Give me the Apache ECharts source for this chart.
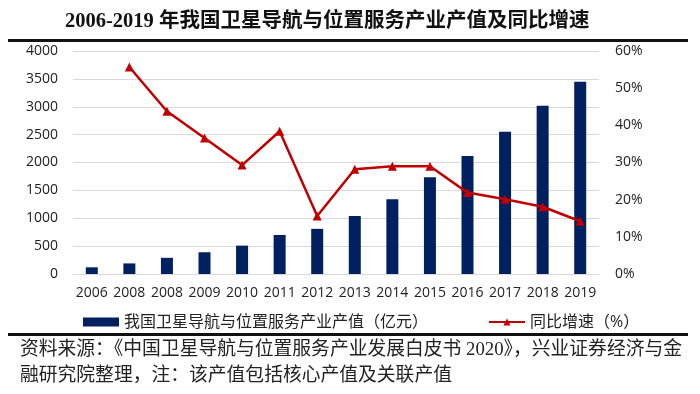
<!DOCTYPE html>
<html><head><meta charset="utf-8">
<script src="https://cdn.jsdelivr.net/npm/echarts@6/dist/echarts.min.js"></script>
<style>html,body{margin:0;padding:0;background:#fff}#c{width:700px;height:394px}</style>
</head><body><div id="c"></div>
<script>
const categories = ['2006','2008','2008','2009','2010','2011','2012','2013','2014','2015','2016','2017','2018','2019'];
const outputValue = [120, 190, 290, 390, 509, 700, 810, 1040, 1343, 1735, 2118, 2550, 3016, 3450];
const growthRate = ['-', 55.7, 43.8, 36.6, 29.3, 38.4, 15.6, 28.2, 29.0, 29.0, 21.9, 20.1, 18.1, 14.2];
const barName = '我国卫星导航与位置服务产业产值（亿元）';
const lineName = '同比增速（%）';
const titleText = '2006-2019 年我国卫星导航与位置服务产业产值及同比增速';
const sourceLine1 = '资料来源：《中国卫星导航与位置服务产业发展白皮书 2020》，兴业证券经济与金';
const sourceLine2 = '融研究院整理，注：该产值包括核心产值及关联产值';

const chart = echarts.init(document.getElementById('c'), null, {renderer: 'canvas'});
const serifFont = '"Liberation Serif", "Noto Sans CJK SC", serif';
const sansFont = '"Open Sans", "Noto Sans CJK SC", sans-serif';
chart.setOption({
  animation: false,
  backgroundColor: '#fff',
  title: {
    text: titleText, left: 60, top: 6,
    textStyle: {fontFamily: serifFont, fontWeight: 'bold', fontSize: 20.5, color: '#111'}
  },
  graphic: [
    {type: 'rect', shape: {x: 8, y: 39, width: 680, height: 3}, style: {fill: '#111'}},
    {type: 'rect', shape: {x: 8, y: 333, width: 680, height: 3}, style: {fill: '#111'}},
    {type: 'text', x: 20, y: 341, style: {text: sourceLine1, font: '18.8px "Liberation Serif", "Noto Sans CJK SC", serif', fill: '#222'}},
    {type: 'text', x: 20, y: 367, style: {text: sourceLine2, font: '18.8px "Liberation Serif", "Noto Sans CJK SC", serif', fill: '#222'}}
  ],
  legend: {
    top: 309, left: 78, itemGap: 60, itemWidth: 36, itemHeight: 9,
    textStyle: {fontFamily: sansFont, fontSize: 16, color: '#222'},
    data: [{name: barName, icon: 'rect'}, {name: lineName}]
  },
  grid: {left: 73, right: 101, top: 51, bottom: 120},
  xAxis: {
    type: 'category', data: categories,
    axisLine: {show: true, lineStyle: {color: '#d9d9d9'}},
    axisTick: {show: false},
    axisLabel: {interval: 0, color: '#222', fontFamily: sansFont, fontSize: 14, margin: 12}
  },
  yAxis: [
    {type: 'value', min: 0, max: 4000, interval: 500,
     axisLine: {show: false}, axisTick: {show: false},
     splitLine: {lineStyle: {color: '#d9d9d9'}},
     axisLabel: {formatter: function (v) { return String(v); }, color: '#222', fontFamily: sansFont, fontSize: 14, margin: 15}},
    {type: 'value', min: 0, max: 60, interval: 10,
     axisLine: {show: false}, axisTick: {show: false}, splitLine: {show: false},
     axisLabel: {formatter: '{value}%', color: '#222', fontFamily: sansFont, fontSize: 14, margin: 16}}
  ],
  series: [
    {name: barName, type: 'bar', data: outputValue, barWidth: 12,
     itemStyle: {color: '#002060'}},
    {name: lineName, type: 'line', yAxisIndex: 1, data: growthRate,
     symbol: 'triangle', symbolSize: 9,
     lineStyle: {color: '#c00000', width: 2.5}, itemStyle: {color: '#c00000'}}
  ]
});
</script></body></html>
